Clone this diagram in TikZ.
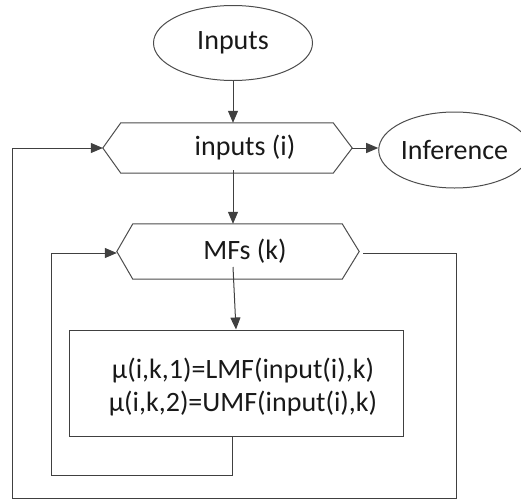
\documentclass[tikz,border=0pt]{standalone}
\usepackage{fontspec}
\setmainfont{Carlito}
\usetikzlibrary{arrows.meta,shapes.geometric,calc}
\begin{document}
\begin{tikzpicture}[x=1pt,y=-1pt,
  every node/.style={font=\fontsize{28}{33}\selectfont, text=black!90},
  ln/.style={draw=black!75, line width=1pt},
  arr/.style={ln, -{Triangle[length=12pt,width=10pt]}},
  ell/.style={ellipse, draw=black!70, line width=1pt, inner sep=0pt},
  hexbox/.style={inner sep=0pt},
  hexline/.style={draw=black!70, line width=1pt},
  boxnode/.style={rectangle, draw=black!75, line width=1pt, inner sep=0pt}]
\useasboundingbox (0,0) rectangle (521,501);
% nodes
\node[ell, minimum width=159pt, minimum height=75pt] (in) at (233,43) {Inputs};
\node[hexbox, minimum width=249pt, minimum height=50pt,
      label={[xshift=17.5pt]center:inputs (i)}] (h1) at (227.5,148) {};
\node[ell, minimum width=131pt, minimum height=76pt] (inf) at (454.5,150) {Inference};
\node[hexbox, minimum width=242pt, minimum height=55pt,
      label={[xshift=7pt,yshift=0pt]center:MFs (k)}] (h2) at (238,251.5) {};
\node[boxnode, minimum width=334pt, minimum height=106pt,
      label={[xshift=7pt,yshift=-4pt,align=center]center:µ(i,k,1)=LMF(input(i),k)\\µ(i,k,2)=UMF(input(i),k)}] (r) at (236,383) {};
% hexagon outlines
\draw[hexline] (h1.west) -- ([xshift=18pt]h1.north west) -- ([xshift=-19pt]h1.north east)
  -- (h1.east) -- ([xshift=-19pt]h1.south east) -- ([xshift=18pt]h1.south west) -- cycle;
\draw[hexline] (h2.west) -- ([xshift=16pt]h2.north west) -- ([xshift=-17pt]h2.north east)
  -- (h2.east) -- ([xshift=-17pt]h2.south east) -- ([xshift=16pt]h2.south west) -- cycle;
% coordinates
\coordinate (a1) at (233,267);
\coordinate (c1) at (232,475);
\coordinate (c2) at (51,475);
\coordinate (c3) at (51,253);
\coordinate (d1) at (456,253);
\coordinate (d2) at (456,498);
\coordinate (d3) at (12,498);
\coordinate (d4) at (12,148);
% connectors
\draw[arr] (in.south) -- (in.south |- h1.north);
\draw[arr] ([yshift=3pt]in.south |- h1.south) -- (in.south |- h2.north);
\draw[arr] (h1.east) -- (h1.east -| inf.west);
\draw[arr] (a1) -- (r.north);
\draw[arr] (c1 |- r.south) -- (c1) -- (c2) -- (c3) -- (h2.west |- c3);
\draw[arr] ([xshift=4pt]h2.east |- d1) -- (d1) -- (d2) -- (d3) -- (d4) -- (h1.west);
\end{tikzpicture}
\end{document}
